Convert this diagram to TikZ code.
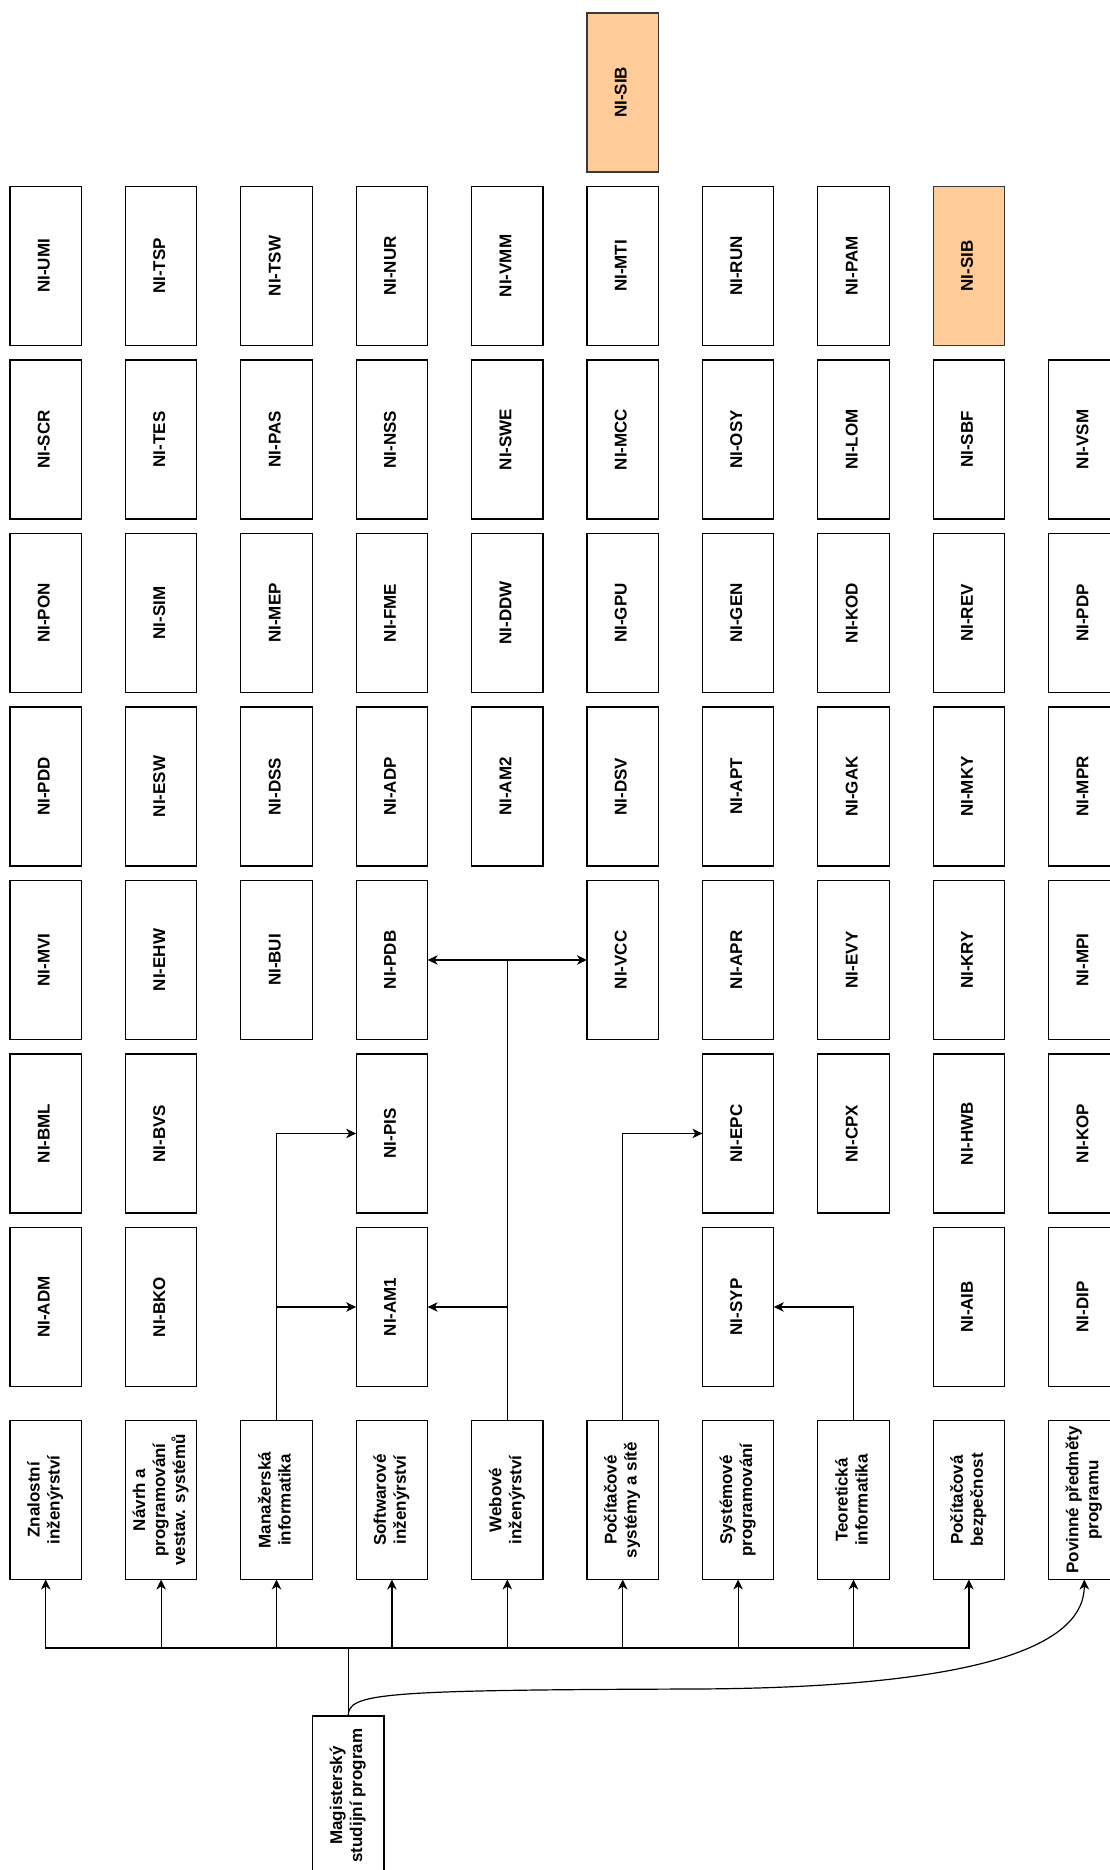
\documentclass[tikz,border=0pt]{standalone}
\usepackage{fontspec}
\setmainfont{Liberation Sans}
\usepackage{graphicx}
\usepackage{xcolor}
\usepackage{tikz}
\usetikzlibrary{positioning,arrows.meta,calc}
\definecolor{peach}{HTML}{FFCC99}
\definecolor{peachline}{HTML}{36393D}
\newcommand{\vlabel}[1]{\rotatebox{90}{\begin{tabular}{@{}c@{}}#1\end{tabular}}}
\tikzset{
course/.style={
draw,
line width=1.2pt,
minimum width=71.5pt,
minimum height=159pt,
inner sep=0pt,
outer sep=0pt,
align=center,
font=\bfseries\fontsize{17}{20}\selectfont
},
field/.style={
course
},
hlcourse/.style={
course,
fill=peach,
draw=peachline
},
arrow/.style={
-{Stealth[length=10pt,width=9.5pt,inset=3pt]},
line width=1.2pt
}
}

\begin{document}
\begin{tikzpicture}[x=1pt,y=1pt,node distance=14.5pt and 43.9pt]
\useasboundingbox (0,0) rectangle (1110,1870);
% study fields
\node[field](zi) at (45.7,370){\vlabel{Znalostní\\inženýrství}};
\node[field,right=of zi](nps){\vlabel{Návrh a\\programování\\vestav. systémů}};
\node[field,right=of nps](mi){\vlabel{Manažerská\\informatika}};
\node[field,right=of mi](si){\vlabel{Softwarové\\inženýrství}};
\node[field,right=of si](wi){\vlabel{Webové\\inženýrství}};
\node[field,right=of wi](pss){\vlabel{Počítačové\\systémy a sítě}};
\node[field,right=of pss](sp){\vlabel{Systémové\\programování}};
\node[field,right=of sp](ti){\vlabel{Teoretická\\informatika}};
\node[field,right=of ti](pb){\vlabel{Počítačová\\bezpečnost}};
\node[field,right=of pb](pp){\vlabel{Povinné předměty\\programu}};
\node[field](mag) at (348.2,74.5){\vlabel{Magisterský\\studijní program}};

% Znalostni inzenyrstvi
\node[course,above=34pt of zi](adm){\vlabel{NI-ADM}};
\node[course,above=of adm](bml){\vlabel{NI-BML}};
\node[course,above=of bml](mvi){\vlabel{NI-MVI}};
\node[course,above=of mvi](pdd){\vlabel{NI-PDD}};
\node[course,above=of pdd](pon){\vlabel{NI-PON}};
\node[course,above=of pon](scr){\vlabel{NI-SCR}};
\node[course,above=of scr](umi){\vlabel{NI-UMI}};

% Navrh a programovani vestav. systemu
\node[course,above=34pt of nps](bko){\vlabel{NI-BKO}};
\node[course,above=of bko](bvs){\vlabel{NI-BVS}};
\node[course,above=of bvs](ehw){\vlabel{NI-EHW}};
\node[course,above=of ehw](esw){\vlabel{NI-ESW}};
\node[course,above=of esw](sim){\vlabel{NI-SIM}};
\node[course,above=of sim](tes){\vlabel{NI-TES}};
\node[course,above=of tes](tsp){\vlabel{NI-TSP}};

% Manazerska informatika
\node[course](bui) at (mi |- ehw){\vlabel{NI-BUI}};
\node[course,above=of bui](dss){\vlabel{NI-DSS}};
\node[course,above=of dss](mep){\vlabel{NI-MEP}};
\node[course,above=of mep](pas){\vlabel{NI-PAS}};
\node[course,above=of pas](tsw){\vlabel{NI-TSW}};

% Softwarove inzenyrstvi
\node[course,above=34pt of si](am1){\vlabel{NI-AM1}};
\node[course,above=of am1](pis){\vlabel{NI-PIS}};
\node[course,above=of pis](pdb){\vlabel{NI-PDB}};
\node[course,above=of pdb](adp){\vlabel{NI-ADP}};
\node[course,above=of adp](fme){\vlabel{NI-FME}};
\node[course,above=of fme](nss){\vlabel{NI-NSS}};
\node[course,above=of nss](nur){\vlabel{NI-NUR}};

% Webove inzenyrstvi
\node[course](am2) at (wi |- adp){\vlabel{NI-AM2}};
\node[course,above=of am2](ddw){\vlabel{NI-DDW}};
\node[course,above=of ddw](swe){\vlabel{NI-SWE}};
\node[course,above=of swe](vmm){\vlabel{NI-VMM}};

% Pocitacove systemy a site
\node[course](vcc) at (pss |- pdb){\vlabel{NI-VCC}};
\node[course,above=of vcc](dsv){\vlabel{NI-DSV}};
\node[course,above=of dsv](gpu){\vlabel{NI-GPU}};
\node[course,above=of gpu](mcc){\vlabel{NI-MCC}};
\node[course,above=of mcc](mti){\vlabel{NI-MTI}};
\node[hlcourse,above=of mti](sibtop){\vlabel{NI-SIB}};

% Systemove programovani
\node[course,above=34pt of sp](syp){\vlabel{NI-SYP}};
\node[course,above=of syp](epc){\vlabel{NI-EPC}};
\node[course,above=of epc](apr){\vlabel{NI-APR}};
\node[course,above=of apr](apt){\vlabel{NI-APT}};
\node[course,above=of apt](gen){\vlabel{NI-GEN}};
\node[course,above=of gen](osy){\vlabel{NI-OSY}};
\node[course,above=of osy](run){\vlabel{NI-RUN}};

% Teoreticka informatika
\node[course](cpx) at (ti |- epc){\vlabel{NI-CPX}};
\node[course,above=of cpx](evy){\vlabel{NI-EVY}};
\node[course,above=of evy](gak){\vlabel{NI-GAK}};
\node[course,above=of gak](kod){\vlabel{NI-KOD}};
\node[course,above=of kod](lom){\vlabel{NI-LOM}};
\node[course,above=of lom](pam){\vlabel{NI-PAM}};

% Pocitacova bezpecnost
\node[course,above=34pt of pb](aib){\vlabel{NI-AIB}};
\node[course,above=of aib](hwb){\vlabel{NI-HWB}};
\node[course,above=of hwb](kry){\vlabel{NI-KRY}};
\node[course,above=of kry](mky){\vlabel{NI-MKY}};
\node[course,above=of mky](rev){\vlabel{NI-REV}};
\node[course,above=of rev](sbf){\vlabel{NI-SBF}};
\node[hlcourse,above=of sbf](sib){\vlabel{NI-SIB}};

% Povinne predmety
\node[course,above=34pt of pp](dip){\vlabel{NI-DIP}};
\node[course,above=of dip](kop){\vlabel{NI-KOP}};
\node[course,above=of kop](mpi){\vlabel{NI-MPI}};
\node[course,above=of mpi](mpr){\vlabel{NI-MPR}};
\node[course,above=of mpr](pdp){\vlabel{NI-PDP}};
\node[course,above=of pdp](vsm){\vlabel{NI-VSM}};

% program -> fields
\coordinate(bus) at ($(mag.north)+(0,68)$);
\foreach \f in {zi,nps,mi,si,wi,pss,sp,ti,pb}
\draw[arrow](mag.north)--(bus)-|(\f.south);
\draw[arrow](mag.north) .. controls (348.2,177) and (380,180) .. (700,181)
 .. controls (1000,183) and (1084.3,230) .. (pp.south);

% fields -> shared courses
\foreach \x/\y in {mi/am1.west,mi/pis.west,wi/am1.east,wi/pdb.east,wi/vcc.west,pss/epc.west,ti/syp.east}
\draw[arrow](\x.north)|-(\y);
\end{tikzpicture}
\end{document}
